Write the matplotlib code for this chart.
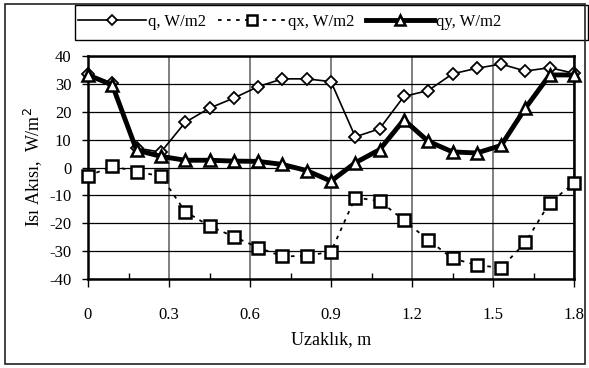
import numpy as np
import matplotlib.pyplot as plt
from matplotlib.patches import Rectangle
from matplotlib.ticker import MultipleLocator

plt.rcParams["font.family"] = ["Liberation Serif", "DejaVu Serif"]
plt.rcParams["axes.unicode_minus"] = False

# distance along the wall, m
x = [0, 0.09, 0.18, 0.27, 0.36, 0.45, 0.54, 0.63, 0.72, 0.81, 0.9,
     0.99, 1.08, 1.17, 1.26, 1.35, 1.44, 1.53, 1.62, 1.71, 1.8]

# heat flux values, W/m2
q = [33.5, 30.2, 7.0, 5.5, 16.2, 21.3, 24.9, 29.0, 31.8, 31.8, 30.8,
     11.0, 13.9, 25.5, 27.6, 33.6, 35.6, 37.1, 34.6, 35.8, 33.8]
qx = [-3.1, 0.5, -1.5, -3.1, -15.8, -21.0, -24.8, -28.7, -31.9, -31.7, -30.2,
      -10.8, -12.0, -18.9, -26.0, -32.6, -35.0, -36.0, -26.9, -12.6, -5.7]
qy = [33.2, 29.6, 6.2, 4.0, 2.6, 2.6, 2.3, 2.2, 1.1, -1.1, -4.9,
      1.7, 6.4, 17.1, 9.4, 5.6, 5.2, 7.9, 21.3, 33.2, 33.2]

fig = plt.figure(figsize=(5.89, 3.68), dpi=100)
ax = fig.add_axes([88 / 589, 89 / 368, 486 / 589, 223 / 368])

l1, = ax.plot(x, q, color="black", lw=1.2, marker="D", ms=6.5,
              mfc="white", mec="black", mew=1.3, label="q, W/m2", zorder=4,
              clip_on=False)
l2, = ax.plot(x, qx, color="black", lw=1.3, ls=(0, (2, 3)), marker="s", ms=8,
              mfc="white", mec="black", mew=1.8, label="qx, W/m2", zorder=3,
              clip_on=False)
l3, = ax.plot(x, qy, color="black", lw=3.5, marker="^", ms=8.5,
              mfc="white", mec="black", mew=1.8, label="qy, W/m2", zorder=5,
              clip_on=False)

ax.set_xlim(0, 1.8)
ax.set_ylim(-40, 40)
ax.xaxis.set_major_locator(MultipleLocator(0.3))
ax.xaxis.set_minor_locator(MultipleLocator(0.15))
ax.yaxis.set_major_locator(MultipleLocator(10))
ax.xaxis.set_major_formatter(plt.FuncFormatter(
    lambda v, p: "0" if abs(v) < 1e-9 else f"{v:.1f}"))

ax.grid(axis="y", color="black", lw=0.9)
ax.grid(axis="x", which="major", color="#808080", lw=1.4)
ax.set_axisbelow(True)
for s in ax.spines.values():
    s.set_linewidth(1.8)
    s.set_color("black")

ax.tick_params(axis="x", which="major", direction="out", length=6, width=1,
               labelsize=12, pad=14)
ax.tick_params(axis="x", which="minor", direction="in", length=4, width=1)
ax.tick_params(axis="y", direction="out", length=4, width=1, labelsize=12,
               pad=8)

ax.set_xlabel("Uzaklık, m", fontsize=13, labelpad=6)
ax.set_ylabel("Isı Akısı,  W/m$^2$", fontsize=13, labelpad=4)

# legend entries without frame, frame drawn as a separate box
leg = fig.legend(handles=[l1, l2, l3], ncol=3, loc="center left",
                 bbox_to_anchor=(78 / 589, 1 - 22 / 368), fontsize=12,
                 frameon=False, handlelength=4.1, columnspacing=0.7,
                 handletextpad=0.1, borderpad=0, borderaxespad=0,
                 markerscale=0.85)
fig.patches.append(Rectangle((75 / 589, 1 - 40 / 368), 513 / 589, 35 / 368,
                             transform=fig.transFigure, fill=False,
                             edgecolor="black", lw=1.0))

fig.patches.append(Rectangle((5 / 589, 4 / 368), 580 / 589, 360 / 368,
                             transform=fig.transFigure, fill=False,
                             edgecolor="#222222", lw=1.2))

fig.savefig("out.png", dpi=100)
